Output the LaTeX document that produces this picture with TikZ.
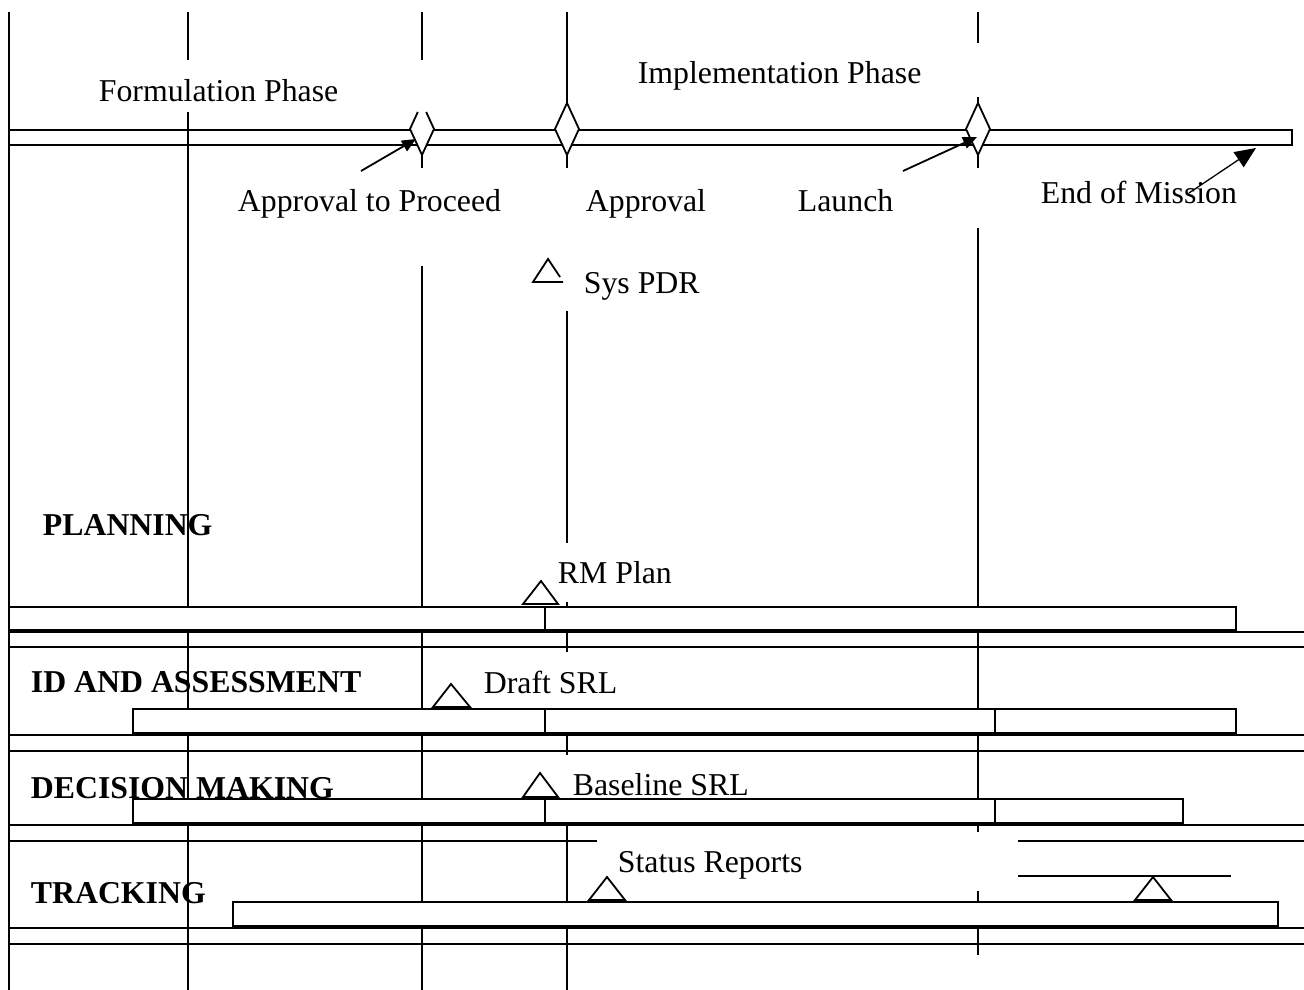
\documentclass[tikz,border=0pt]{standalone}
\usepackage{fontspec}
\setmainfont{Liberation Serif}
\usetikzlibrary{arrows.meta}
\begin{document}
\begin{tikzpicture}[x=1pt,y=-1pt,line width=1.8pt,
  rule/.style={line width=1.8pt},
  barbox/.style={draw,fill=white,line width=1.8pt},
  gate/.style={draw,fill=white,line width=1.8pt,line join=miter},
  marker/.style={draw,fill=white,line width=1.8pt,line join=miter},
  lbl/.style={inner sep=0pt,anchor=base west,font=\fontsize{31.8}{38}\selectfont},
  rowlbl/.style={inner sep=0pt,anchor=base west,font=\fontsize{31.8}{38}\selectfont\bfseries},
  ptr/.style={line width=1.8pt,-{Triangle[length=14pt,width=12pt]}},
  bigptr/.style={line width=1.3pt,-{Triangle[length=21pt,width=18pt]}}]
\useasboundingbox (0,0) rectangle (1304,990);

% vertical time lines
\draw[rule] (9,12) -- (9,990);
\draw[rule] (188,12) -- (188,60) (188,112) -- (188,990);
\draw[rule] (422,12) -- (422,60) (422,112) -- (422,168) (422,266) -- (422,990);
\draw[rule] (567,12) -- (567,168) (567,311) -- (567,543) (567,602) -- (567,652)
            (567,735) -- (567,755) (567,822) -- (567,990);
\draw[rule] (978,12) -- (978,43) (978,97) -- (978,168) (978,228) -- (978,832)
            (978,891) -- (978,955);

% life-cycle bar
\draw[rule] (9,130) rectangle (1292,145);

% milestone diamonds
\fill[white] (417.8,112) -- (410,129) -- (422,155) -- (434,129) -- (426.2,112) -- cycle;
\draw[gate] (417.8,112) -- (410,129) -- (422,155) -- (434,129) -- (426.2,112);
\draw[gate] (567,103) -- (579,129) -- (567,155) -- (555,129) -- cycle;
\draw[gate] (978,103) -- (990,129) -- (978,155) -- (966,129) -- cycle;

% PLANNING row
\draw[barbox] (9,607) rectangle (545,630);
\draw[barbox] (545,607) rectangle (1236,630);
\draw[rule] (9,632) -- (1304,632);
\draw[rule] (9,647) -- (1304,647);

% ID AND ASSESSMENT row
\draw[barbox] (133,709) rectangle (545,733);
\draw[barbox] (545,709) rectangle (995,733);
\draw[barbox] (995,709) rectangle (1236,733);
\draw[rule] (9,735) -- (1304,735);
\draw[rule] (9,751) -- (1304,751);

% DECISION MAKING row
\draw[barbox] (133,799) rectangle (545,823);
\draw[barbox] (545,799) rectangle (995,823);
\draw[barbox] (995,799) rectangle (1183,823);
\draw[rule] (9,825) -- (1304,825);
\draw[rule] (9,841) -- (597,841);
\draw[rule] (1018,841) -- (1304,841);
\draw[rule] (1018,876) -- (1231,876);

% TRACKING row
\draw[barbox] (233,902) rectangle (1278,926);
\draw[rule] (9,928) -- (1304,928);
\draw[rule] (9,944) -- (1304,944);

% review triangles
\draw[marker] (563,282) -- (533,282) -- (548,259) -- (560,277);
\draw[marker] (523,604) -- (541,581) -- (558,604) -- cycle;
\draw[marker] (433,707) -- (451,684) -- (470,707) -- cycle;
\draw[marker] (523,797) -- (540,773) -- (558,797) -- cycle;
\draw[marker] (589,900) -- (607,877) -- (625,900) -- cycle;
\draw[marker] (1135,900) -- (1153,877) -- (1171,900) -- cycle;

% phase and milestone labels
\node[lbl] (form) at (98,101) {Formulation Phase};
\node[lbl] (impl) at (637,84) {Implementation Phase};
\node[lbl] (atp) at (237,211) {Approval to Proceed};
\node[lbl] (appr) at (585,211) {Approval};
\node[lbl] (launch) at (797,211) {Launch};
\node[lbl] (eom) at (1040,203) {End of Mission};
\node[lbl] (pdr) at (583,293) {Sys PDR};

% row labels
\node[rowlbl] (plan) at (42,535) {PLANNING};
\node[rowlbl] (ida) at (30,692) {ID AND ASSESSMENT};
\node[rowlbl] (dm) at (30,798) {DECISION MAKING};
\node[rowlbl] (trk) at (30,903) {TRACKING};

% product labels
\node[lbl] (rmp) at (557,583) {RM Plan};
\node[lbl] (dsrl) at (483,693) {Draft SRL};
\node[lbl] (bsrl) at (572,795) {Baseline SRL};
\node[lbl] (stat) at (617,872) {Status Reports};

% pointer arrows
\coordinate (atpTail) at (361,171);
\coordinate (atpTip) at (416,139);
\coordinate (lnTail) at (903,171);
\coordinate (lnTip) at (977,137);
\coordinate (eomTail) at (1189,193);
\coordinate (eomTip) at (1256,148);
\draw[ptr] (atpTail) -- (atpTip);
\draw[ptr] (lnTail) -- (lnTip);
\draw[bigptr] (eomTail) -- (eomTip);
\end{tikzpicture}
\end{document}
